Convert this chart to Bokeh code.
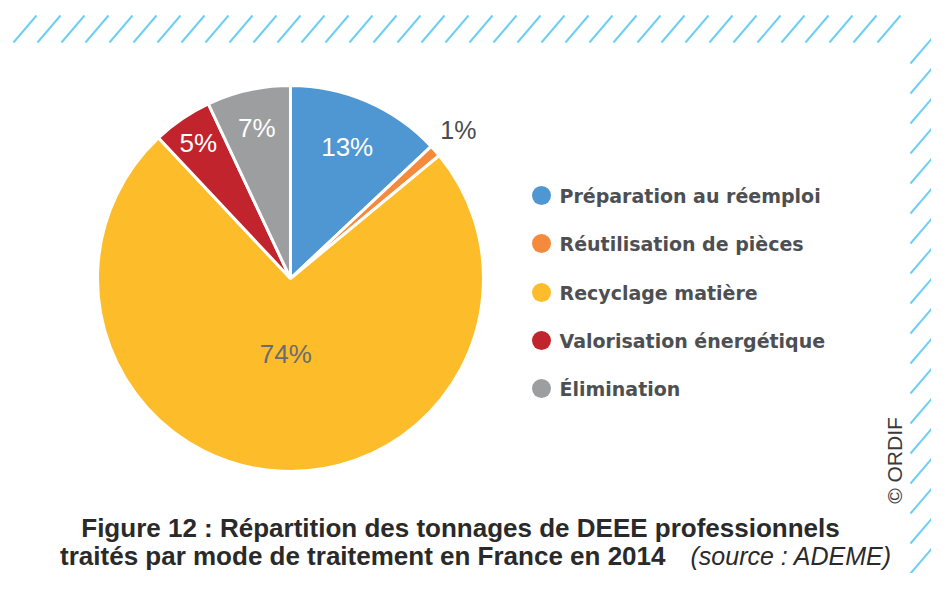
import math
from bokeh.plotting import figure
from bokeh.models import Range1d
from bokeh.core.properties import value
from bokeh.embed import file_html
from bokeh.resources import INLINE

# ---- data ----
categories = ["Préparation au réemploi", "Réutilisation de pièces", "Recyclage matière",
              "Valorisation énergétique", "Élimination"]
values = [13, 1, 74, 5, 7]
pct_labels = ["13%", "1%", "74%", "5%", "7%"]
colors = ["#4f97d3", "#f58a3c", "#fdbd2a", "#c1242c", "#9d9ea0"]
label_colors = ["white", "#4a4b4e", "#6b6c6f", "white", "white"]
label_radius = [0.74, 1.16, 0.39, 0.85, 0.80]
label_sizes = ["26px", "25px", "26px", "26px", "26px"]

title_line1 = "Figure 12 : Répartition des tonnages de DEEE professionnels"
title_line2 = "traités par mode de traitement en France en 2014"
source_txt = "(source : ADEME)"
credit = "© ORDIF"

W, H = 931, 573


def X(px):
    return px


def Y(py):
    return H - py


p = figure(width=W, height=H, x_range=Range1d(0, W), y_range=Range1d(0, H),
           output_backend="svg", toolbar_location=None, min_border=0)
p.axis.visible = False
p.grid.visible = False
p.outline_line_color = None
p.background_fill_color = "white"
p.border_fill_color = "white"

# ---- decorative hatched border ----
hatch = "#6dcff6"
xs0, ys0, xs1, ys1 = [], [], [], []
bx = 13
while bx <= 900:
    xs0.append(X(bx)); ys0.append(Y(42)); xs1.append(X(bx + 23)); ys1.append(Y(15))
    bx += 24
by = 63
while by <= 600:
    xs0.append(X(910)); ys0.append(Y(by)); xs1.append(X(910 + 23)); ys1.append(Y(by - 27))
    by += 30
p.segment(x0=xs0, y0=ys0, x1=xs1, y1=ys1, line_color=hatch, line_width=2)

# ---- pie ----
cx, cy, R = X(290), Y(278), 193
total = float(sum(values))
starts, ends, mids = [], [], []
cum = 0.0
for v in values:
    a0 = math.pi / 2 - 2 * math.pi * (cum + v) / total
    a1 = math.pi / 2 - 2 * math.pi * cum / total
    starts.append(a0); ends.append(a1); mids.append((a0 + a1) / 2)
    cum += v
p.wedge(x=cx, y=cy, radius=R, radius_units="screen", start_angle=starts, end_angle=ends,
        fill_color=colors, line_color="white", line_width=3)

for lab, m, rr, col, sz in zip(pct_labels, mids, label_radius, label_colors, label_sizes):
    p.text(x=[cx + rr * R * math.cos(m)], y=[cy + rr * R * math.sin(m)], text=[lab],
           text_font=value("Liberation Sans"), text_font_size=sz, text_color=col,
           text_align="center", text_baseline="middle")

# ---- legend ----
leg_y = [195, 243, 292, 340, 388]
p.scatter(x=[X(541)] * len(categories), y=[Y(v) for v in leg_y], size=19,
          fill_color=colors, line_color=None)
p.text(x=[X(559)] * len(categories), y=[Y(v) for v in leg_y], text=categories,
       text_font=value("DejaVu Sans"), text_font_style="bold", text_font_size="19px",
       text_color="#4d4f53", text_align="left", text_baseline="middle")

# ---- credit ----
p.text(x=[X(894)], y=[Y(460)], text=[credit], angle=math.pi / 2,
       text_font=value("Liberation Sans"), text_font_size="21px", text_color="#3a3a3a",
       text_align="center", text_baseline="middle")

# ---- title ----
p.text(x=[X(460)], y=[Y(527)], text=[title_line1],
       text_font=value("Liberation Sans"), text_font_style="bold", text_font_size="26px",
       text_color="#2a2a2a", text_align="center", text_baseline="middle")
p.text(x=[X(665)], y=[Y(555)], text=[title_line2],
       text_font=value("Liberation Sans"), text_font_style="bold", text_font_size="26px",
       text_color="#2a2a2a", text_align="right", text_baseline="middle")
p.text(x=[X(690)], y=[Y(555)], text=[source_txt],
       text_font=value("Liberation Sans"), text_font_style="italic", text_font_size="25px",
       text_color="#2a2a2a", text_align="left", text_baseline="middle")

open("out.html", "w").write(file_html(p, INLINE))
